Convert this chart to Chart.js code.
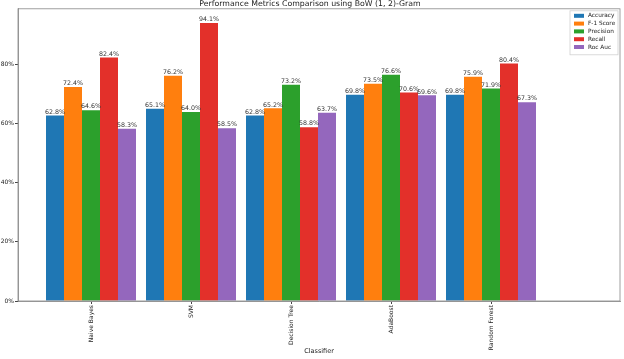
<!DOCTYPE html>
<html>
<head>
<meta charset="utf-8">
<script src="https://cdn.jsdelivr.net/npm/chart.js@4"></script>
<style>
  html, body { margin: 0; padding: 0; background: #fff; }
  #wrap { width: 624px; height: 359px; }
</style>
</head>
<body>
<div id="wrap"><canvas id="metricsChart" width="624" height="359"></canvas></div>
<script>
const classifiers = ['Naive Bayes', 'SVM', 'Decision Tree', 'AdaBoost', 'Random Forest'];
const accuracy = [62.8, 65.1, 62.8, 69.8, 69.8];
const f1Score = [72.4, 76.2, 65.2, 73.5, 75.9];
const precision = [64.6, 64.0, 73.2, 76.6, 71.9];
const recall = [82.4, 94.1, 58.8, 70.6, 80.4];
const rocAuc = [58.3, 58.5, 63.7, 69.6, 67.3];
const yTicks = [0, 20, 40, 60, 80];

const series = [
    { label: 'Accuracy', values: accuracy, color: '#1f77b4' },
    { label: 'F-1 Score', values: f1Score, color: '#ff7f0e' },
    { label: 'Precision', values: precision, color: '#2ca02c' },
    { label: 'Recall', values: recall, color: '#e3302a' },
    { label: 'Roc Auc', values: rocAuc, color: '#9467bd' },
];

const FONT = 'DejaVu Sans';

// value labels above each bar + plot frame
const barLabels = {
    id: 'barLabels',
    afterDatasetsDraw(chart) {
        const ctx = chart.ctx;
        const a = chart.chartArea;
        ctx.save();
        ctx.strokeStyle = '#888';
        ctx.lineWidth = 0.8;
        ctx.strokeRect(a.left, a.top, a.right - a.left, a.bottom - a.top);
        ctx.font = '6.3px ' + FONT;
        ctx.fillStyle = '#333';
        ctx.textAlign = 'center';
        ctx.textBaseline = 'bottom';
        chart.data.datasets.forEach((ds, i) => {
            chart.getDatasetMeta(i).data.forEach((bar, j) => {
                ctx.fillText(ds.data[j].y.toFixed(1) + '%', bar.x, bar.y - 0.3);
            });
        });
        ctx.restore();
    }
};

// legend box inside the top-right corner of the plot
const innerLegend = {
    id: 'innerLegend',
    afterDraw(chart) {
        const ctx = chart.ctx;
        const area = chart.chartArea;
        const w = 48, rowH = 7.8, h = chart.data.datasets.length * rowH + 5;
        const x0 = area.right - w - 2, y0 = area.top + 2;
        ctx.save();
        ctx.fillStyle = 'rgba(255,255,255,0.85)';
        ctx.strokeStyle = '#d0d0d0';
        ctx.lineWidth = 0.8;
        ctx.fillRect(x0, y0, w, h);
        ctx.strokeRect(x0, y0, w, h);
        ctx.font = '5.8px ' + FONT;
        ctx.textBaseline = 'middle';
        ctx.textAlign = 'left';
        chart.data.datasets.forEach((ds, i) => {
            const cy = y0 + 5 + i * rowH;
            ctx.fillStyle = ds.backgroundColor;
            ctx.fillRect(x0 + 4, cy - 2, 10, 4);
            ctx.fillStyle = '#222';
            ctx.fillText(ds.label, x0 + 18, cy);
        });
        ctx.restore();
    }
};

const ctx = document.getElementById('metricsChart').getContext('2d');
new Chart(ctx, {
    type: 'bar',
    data: {
        datasets: series.map(s => ({
            label: s.label,
            data: s.values.map((v, i) => ({ x: i, y: v })),
            backgroundColor: s.color,
            borderWidth: 0,
            categoryPercentage: 0.9,
            barPercentage: 1.0,
        }))
    },
    options: {
        responsive: false,
        animation: false,
        layout: { padding: { left: 0, right: 4, top: 0, bottom: 0 } },
        plugins: {
            legend: { display: false },
            tooltip: { enabled: false },
            title: {
                display: true,
                text: 'Performance Metrics Comparison using BoW (1, 2)-Gram',
                color: '#222',
                font: { family: FONT, size: 7.8, weight: 'normal', lineHeight: 1 },
                padding: { top: 0, bottom: 1 }
            }
        },
        scales: {
            x: {
                type: 'linear',
                min: -0.73,
                max: 5.29,
                offset: false,
                afterBuildTicks(scale) {
                    scale.ticks = classifiers.map((c, i) => ({ value: i }));
                },
                afterFit(scale) { scale.height = 58; },
                ticks: {
                    callback: v => classifiers[v] || '',
                    minRotation: 90,
                    maxRotation: 90,
                    autoSkip: false,
                    color: '#222',
                    padding: 1,
                    font: { family: FONT, size: 6 }
                },
                grid: { offset: false, drawOnChartArea: false, drawTicks: true, tickLength: 3, color: '#444' },
                border: { color: '#888', width: 0.8 },
                title: {
                    display: true,
                    text: 'Classifier',
                    color: '#222',
                    font: { family: FONT, size: 6.5 },
                    padding: { top: 0, bottom: 4 }
                }
            },
            y: {
                min: 0,
                max: 98.9,
                afterBuildTicks(scale) {
                    scale.ticks = yTicks.map(v => ({ value: v }));
                },
                afterFit(scale) { scale.width = 18; },
                ticks: {
                    callback: v => v + '%',
                    color: '#222',
                    padding: 1,
                    font: { family: FONT, size: 6 }
                },
                grid: { drawOnChartArea: false, drawTicks: true, tickLength: 3, color: '#444' },
                border: { color: '#888', width: 0.8 }
            }
        }
    },
    plugins: [barLabels, innerLegend]
});
</script>
</body>
</html>
